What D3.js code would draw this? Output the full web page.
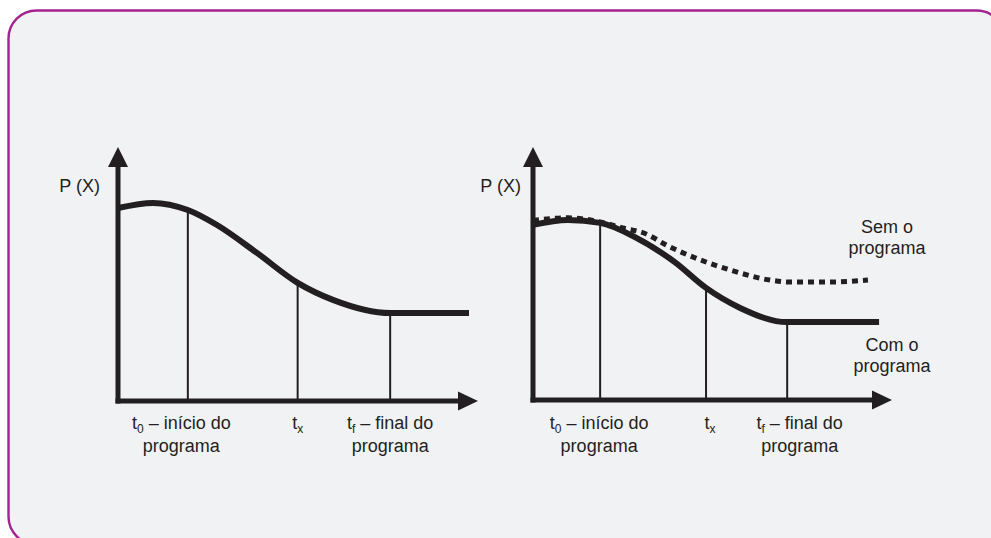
<!DOCTYPE html>
<html>
<head>
<meta charset="utf-8">
<script src="https://cdn.jsdelivr.net/npm/d3@7"></script>
<style>
  body { margin: 0; background: #fff; }
  text { font-family: "Liberation Sans", Arial, sans-serif; fill: #231f20; font-size: 18px; }
</style>
</head>
<body>
<svg id="chart" width="991" height="538"></svg>
<script>
// time marks on the x axis
var markSub = ["0", "x", "f"];
var markRest = [" \u2013 in\u00edcio do", "", " \u2013 final do"];
var markLine2 = ["programa", "", "programa"];

// left panel: one curve of P(X) over time
var leftT = [0, 0.97, 1.94, 2.75, 3.86, 4.99, 5.97, 7.56, 9.75];
var leftP = [7.6, 7.8, 7.52, 6.93, 5.83, 4.65, 3.98, 3.46, 3.46];
var leftMarks = [1.94, 4.99, 7.56];

// right panel: with and without the programme
var comT = [0, 0.97, 1.87, 2.84, 3.95, 4.82, 5.77, 7.08, 9.64];
var comP = [6.92, 7.11, 7.0, 6.44, 5.45, 4.43, 3.64, 3.08, 3.08];
var semT = [0, 0.97, 1.87, 2.5, 3.12, 3.76, 4.6, 5.49, 6.6, 7.16, 8.27, 9.33];
var semP = [7.1, 7.2, 7.04, 6.8, 6.58, 6.09, 5.57, 5.14, 4.74, 4.66, 4.66, 4.74];
var rightMarks = [1.87, 4.82, 7.08];

var semLabel = ["Sem o", "programa"];
var comLabel = ["Com o", "programa"];

var ink = "#231f20";
var svg = d3.select("#chart");

// frame
svg.append("rect")
    .attr("x", 8.5).attr("y", 10.5)
    .attr("width", 996).attr("height", 534)
    .attr("rx", 28).attr("ry", 28)
    .attr("fill", "#f1f2f4")
    .attr("stroke", "#a3238f")
    .attr("stroke-width", 2.4);

function zip(a, b) {
  return a.map(function(d, i) { return [d, b[i]]; });
}

function drawPanel(p) {
  var x = d3.scaleLinear().domain([0, 10]).range([p.x0, p.x1]),
      y = d3.scaleLinear().domain([0, 10]).range([p.y0, p.y1]);
  var g = svg.append("g");

  var line = d3.line()
      .x(function(d) { return x(d[0]); })
      .y(function(d) { return y(d[1]); })
      .curve(d3.curveMonotoneX);

  // thin guide lines from the curve down to the axis
  var main = p.curves[p.curves.length - 1].data;
  g.selectAll(".mark").data(p.marks).enter().append("line")
      .attr("x1", function(d) { return x(d); })
      .attr("x2", function(d) { return x(d); })
      .attr("y1", function(d) {
        var pt = main.find(function(q) { return q[0] == d; });
        return y(pt[1]);
      })
      .attr("y2", y(0))
      .attr("stroke", ink).attr("stroke-width", 2);

  // axes
  g.append("line")
      .attr("x1", x(0)).attr("x2", x(0))
      .attr("y1", y(0) + 2.5).attr("y2", y(10) + 18)
      .attr("stroke", ink).attr("stroke-width", 5);
  g.append("path")
      .attr("d", "M" + x(0) + "," + y(10) + "L" + (x(0) - 10) + "," + (y(10) + 20) +
                 "L" + (x(0) + 10) + "," + (y(10) + 20) + "Z")
      .attr("fill", ink);
  g.append("line")
      .attr("x1", x(0) - 2.5).attr("x2", x(10) - 18)
      .attr("y1", y(0)).attr("y2", y(0))
      .attr("stroke", ink).attr("stroke-width", 5);
  g.append("path")
      .attr("d", "M" + x(10) + "," + y(0) + "L" + (x(10) - 20) + "," + (y(0) - 9.5) +
                 "L" + (x(10) - 20) + "," + (y(0) + 9.5) + "Z")
      .attr("fill", ink);

  // curves
  p.curves.forEach(function(c) {
    g.append("path")
        .attr("d", line(c.data))
        .attr("fill", "none")
        .attr("stroke", ink)
        .attr("stroke-width", c.dashed ? 5 : 6)
        .attr("stroke-dasharray", c.dashed ? "6,5" : null);
  });

  // y label
  g.append("text")
      .attr("x", x(0) + p.yLabelDx).attr("y", 192)
      .attr("text-anchor", "end")
      .text("P (X)");

  // mark labels
  p.marks.forEach(function(m, i) {
    var cx = x(m) + p.labelDx[i];
    var t = g.append("text")
        .attr("x", cx).attr("y", 429)
        .attr("text-anchor", "middle");
    t.append("tspan").text("t");
    t.append("tspan").attr("dy", 3.5).style("font-size", "12px").text(markSub[i]);
    t.append("tspan").attr("dy", -3.5).text(markRest[i]);
    if (markLine2[i]) {
      g.append("text")
          .attr("x", cx).attr("y", 452)
          .attr("text-anchor", "middle")
          .text(markLine2[i]);
    }
  });

  (p.notes || []).forEach(function(n) {
    n.lines.forEach(function(s, k) {
      g.append("text")
          .attr("x", n.x).attr("y", n.y + k * 20.5)
          .attr("text-anchor", "middle")
          .text(s);
    });
  });
}

drawPanel({
  x0: 118, x1: 478, y0: 401, y1: 147,
  marks: leftMarks,
  labelDx: [-6.5, 0, 0],
  yLabelDx: -18,
  curves: [{ data: zip(leftT, leftP), dashed: false }]
});

drawPanel({
  x0: 533, x1: 892, y0: 400, y1: 147,
  marks: rightMarks,
  labelDx: [-1, 4, 12.5],
  yLabelDx: -12,
  curves: [
    { data: zip(semT, semP), dashed: true },
    { data: zip(comT, comP), dashed: false }
  ],
  notes: [
    { lines: semLabel, x: 887, y: 233 },
    { lines: comLabel, x: 892, y: 351 }
  ]
});
</script>
</body>
</html>
